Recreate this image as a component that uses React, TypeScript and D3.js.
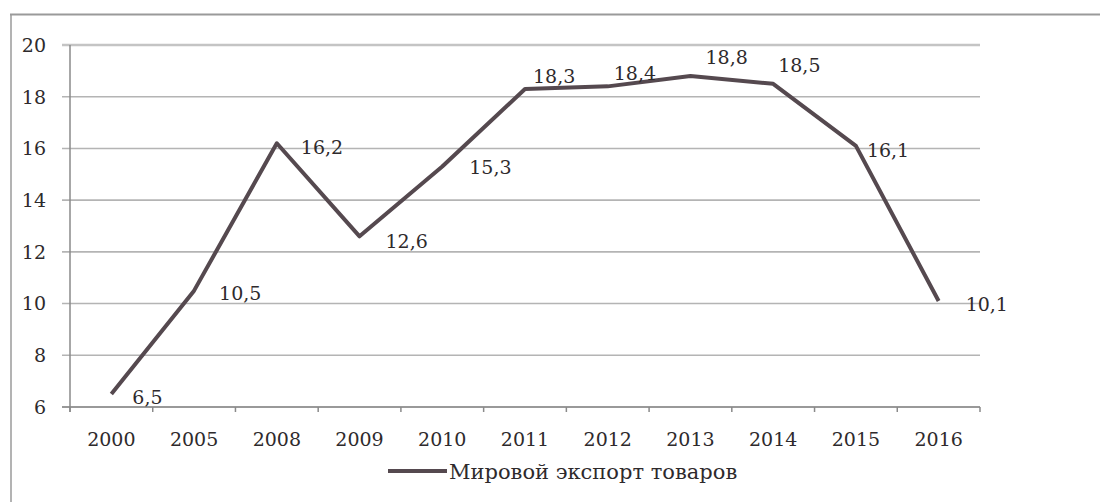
import React from "react";
import * as d3 from "d3";

const years = ["2000", "2005", "2008", "2009", "2010", "2011", "2012", "2013", "2014", "2015", "2016"];
const exports = [6.5, 10.5, 16.2, 12.6, 15.3, 18.3, 18.4, 18.8, 18.5, 16.1, 10.1];
const yTicks = [6, 8, 10, 12, 14, 16, 18, 20];
const seriesName = "Мировой экспорт товаров";
const valueLabels = ["6,5", "10,5", "16,2", "12,6", "15,3", "18,3", "18,4", "18,8", "18,5", "16,1", "10,1"];

// label offsets (style) relative to point
const labelOffsets: [number, number][] = [
  [21, 3], [25, 3], [24, 4], [26, 5], [27, 1], [8, -13], [6, -13], [15, -19], [5, -19], [11, 4], [27, 3],
];

const W = 1100, H = 502;
const left = 70, right = 980, top = 45, bottom = 407;
const font = "DejaVu Serif, Liberation Serif, serif";
const fs = 19;
const lineColor = "#55494f";
const gridColor = "#b4b4b4";
const textColor = "#2e2a2c";

export default function App() {
  const x = d3.scaleBand<string>().domain(years).range([left, right]);
  const y = d3.scaleLinear().domain([6, 20]).range([bottom, top]);
  const cx = (i: number) => (x(years[i]) as number) + x.bandwidth() / 2;
  const line = d3
    .line<number>()
    .x((_, i) => cx(i))
    .y((d) => y(d));
  const edges = years.map((yr) => x(yr) as number).concat([right]);

  return (
    <svg width={W} height={H} style={{ position: "absolute", left: 0, top: 0, background: "#fff" }}>
      <rect x={0} y={0} width={W} height={H} fill="#fff" />
      {/* outer frame */}
      <line x1={10} x2={W} y1={14.5} y2={14.5} stroke="#9a9a9a" strokeWidth={2} />
      <line x1={11} x2={11} y1={14} y2={H} stroke="#9a9a9a" strokeWidth={1.5} />
      {/* gridlines */}
      {yTicks.map((t) => (
        <line key={t} x1={62} x2={right} y1={y(t)} y2={y(t)} stroke={t === 20 ? "#c4c4c4" : gridColor} strokeWidth={t === 20 ? 2.5 : 1.6} />
      ))}
      {/* y axis */}
      <line x1={left} x2={left} y1={top} y2={bottom + 5} stroke="#8a8a8a" strokeWidth={1.5} />
      {yTicks.map((t) => (
        <text key={t} x={46} y={y(t)} dy="0.36em" textAnchor="end" fontFamily={font} fontSize={fs} fill={textColor}>
          {t}
        </text>
      ))}
      {/* x axis */}
      <line x1={left - 8} x2={right} y1={bottom} y2={bottom} stroke="#8a8a8a" strokeWidth={1.5} />
      {edges.map((e, i) => (
        <line key={i} x1={e} x2={e} y1={bottom} y2={bottom + 5} stroke="#8a8a8a" strokeWidth={1.5} />
      ))}
      {years.map((yr, i) => (
        <text key={yr} x={cx(i)} y={bottom + 39} textAnchor="middle" fontFamily={font} fontSize={fs} fill={textColor}>
          {yr}
        </text>
      ))}
      {/* series */}
      <path d={line(exports) || ""} fill="none" stroke={lineColor} strokeWidth={4} strokeLinejoin="round" />
      {exports.map((v, i) => (
        <text
          key={i}
          x={cx(i) + labelOffsets[i][0]}
          y={y(v) + labelOffsets[i][1]}
          dy="0.36em"
          fontFamily={font}
          fontSize={fs}
          fill={textColor}
        >
          {valueLabels[i]}
        </text>
      ))}
      {/* legend */}
      <line x1={388} x2={447} y1={471} y2={471} stroke={lineColor} strokeWidth={4} />
      <text x={449} y={471} dy="0.36em" fontFamily={font} fontSize={21} fill={textColor}>
        {seriesName}
      </text>
    </svg>
  );
}
